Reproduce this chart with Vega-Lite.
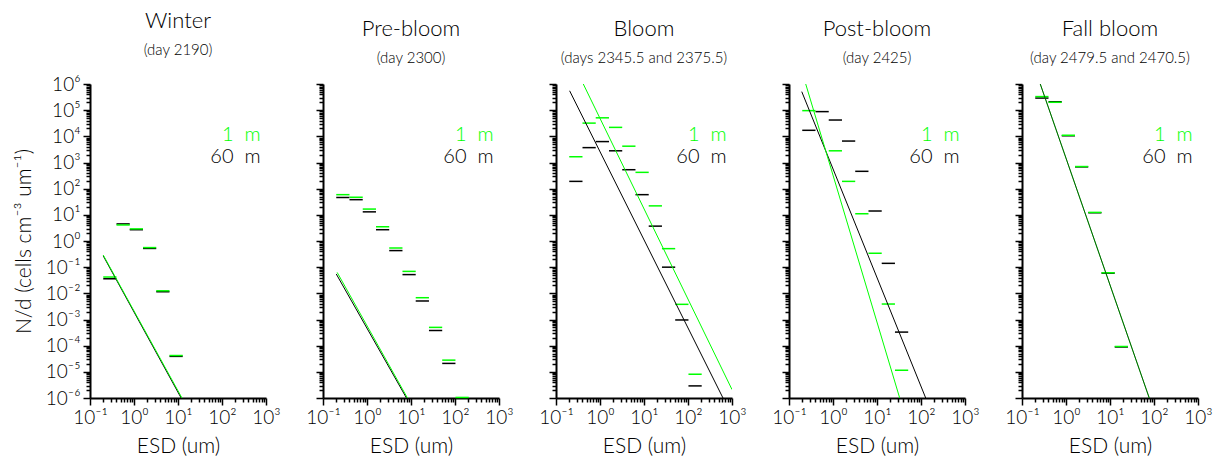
{
  "$schema": "https://vega.github.io/schema/vega-lite/v6.json",
  "padding": {"left": 13, "top": 10, "right": 5, "bottom": 5},
  "bounds": "flush",
  "spacing": 57,
  "config": {
    "view": {"stroke": null},
    "font": "Lato",
    "axis": {"grid": false, "domainColor": "#000", "domainWidth": 2, "tickColor": "#000", "tickWidth": 1.5, "labelColor": "#000", "titleColor": "#000", "labelFont": "Lato", "titleFont": "Lato", "labelFontWeight": 300, "titleFontWeight": 300, "labelFontSize": 19, "labelOverlap": false, "labelFlush": false},
    "title": {"font": "Lato", "fontWeight": 300, "fontSize": 22, "subtitleFont": "Lato", "subtitleFontWeight": 300, "subtitleFontSize": 15, "color": "#000", "subtitleColor": "#000", "subtitlePadding": 10, "offset": 16, "anchor": "middle"},
    "text": {"font": "Lato", "fontWeight": 300}
  },
  "datasets": {
    "bins": [
      {"p": "Winter", "depth": "60 m", "d": 0.2, "d2": 0.4, "v": 0.036},
      {"p": "Winter", "depth": "60 m", "d": 0.4, "d2": 0.8, "v": 4.5},
      {"p": "Winter", "depth": "60 m", "d": 0.8, "d2": 1.6, "v": 2.7},
      {"p": "Winter", "depth": "60 m", "d": 1.6, "d2": 3.2, "v": 0.52},
      {"p": "Winter", "depth": "60 m", "d": 3.2, "d2": 6.4, "v": 0.0115},
      {"p": "Winter", "depth": "60 m", "d": 6.4, "d2": 12.8, "v": 3.9e-5},
      {"p": "Winter", "depth": "1 m", "d": 0.2, "d2": 0.4, "v": 0.042},
      {"p": "Winter", "depth": "1 m", "d": 0.4, "d2": 0.8, "v": 4.1},
      {"p": "Winter", "depth": "1 m", "d": 0.8, "d2": 1.6, "v": 2.9},
      {"p": "Winter", "depth": "1 m", "d": 1.6, "d2": 3.2, "v": 0.56},
      {"p": "Winter", "depth": "1 m", "d": 3.2, "d2": 6.4, "v": 0.0125},
      {"p": "Winter", "depth": "1 m", "d": 6.4, "d2": 12.8, "v": 4.2e-5},
      {"p": "Pre-bloom", "depth": "60 m", "d": 0.2, "d2": 0.4, "v": 46},
      {"p": "Pre-bloom", "depth": "60 m", "d": 0.4, "d2": 0.8, "v": 38},
      {"p": "Pre-bloom", "depth": "60 m", "d": 0.8, "d2": 1.6, "v": 13},
      {"p": "Pre-bloom", "depth": "60 m", "d": 1.6, "d2": 3.2, "v": 2.7},
      {"p": "Pre-bloom", "depth": "60 m", "d": 3.2, "d2": 6.4, "v": 0.43},
      {"p": "Pre-bloom", "depth": "60 m", "d": 6.4, "d2": 12.8, "v": 0.052},
      {"p": "Pre-bloom", "depth": "60 m", "d": 12.8, "d2": 25.6, "v": 0.0051},
      {"p": "Pre-bloom", "depth": "60 m", "d": 25.6, "d2": 51.2, "v": 3.8e-4},
      {"p": "Pre-bloom", "depth": "60 m", "d": 51.2, "d2": 102.4, "v": 2.1e-5},
      {"p": "Pre-bloom", "depth": "1 m", "d": 0.2, "d2": 0.4, "v": 59},
      {"p": "Pre-bloom", "depth": "1 m", "d": 0.4, "d2": 0.8, "v": 47},
      {"p": "Pre-bloom", "depth": "1 m", "d": 0.8, "d2": 1.6, "v": 16.6},
      {"p": "Pre-bloom", "depth": "1 m", "d": 1.6, "d2": 3.2, "v": 3.5},
      {"p": "Pre-bloom", "depth": "1 m", "d": 3.2, "d2": 6.4, "v": 0.54},
      {"p": "Pre-bloom", "depth": "1 m", "d": 6.4, "d2": 12.8, "v": 0.069},
      {"p": "Pre-bloom", "depth": "1 m", "d": 12.8, "d2": 25.6, "v": 0.0068},
      {"p": "Pre-bloom", "depth": "1 m", "d": 25.6, "d2": 51.2, "v": 5.0e-4},
      {"p": "Pre-bloom", "depth": "1 m", "d": 51.2, "d2": 102.4, "v": 2.8e-5},
      {"p": "Pre-bloom", "depth": "1 m", "d": 102.4, "d2": 204.8, "v": 1.05e-6},
      {"p": "Bloom", "depth": "60 m", "d": 0.2, "d2": 0.4, "v": 190},
      {"p": "Bloom", "depth": "60 m", "d": 0.4, "d2": 0.8, "v": 3700},
      {"p": "Bloom", "depth": "60 m", "d": 0.8, "d2": 1.6, "v": 6300},
      {"p": "Bloom", "depth": "60 m", "d": 1.6, "d2": 3.2, "v": 2800},
      {"p": "Bloom", "depth": "60 m", "d": 3.2, "d2": 6.4, "v": 530},
      {"p": "Bloom", "depth": "60 m", "d": 6.4, "d2": 12.8, "v": 59},
      {"p": "Bloom", "depth": "60 m", "d": 12.8, "d2": 25.6, "v": 3.7},
      {"p": "Bloom", "depth": "60 m", "d": 25.6, "d2": 51.2, "v": 0.10},
      {"p": "Bloom", "depth": "60 m", "d": 51.2, "d2": 102.4, "v": 9.6e-4},
      {"p": "Bloom", "depth": "60 m", "d": 102.4, "d2": 204.8, "v": 2.9e-6},
      {"p": "Bloom", "depth": "1 m", "d": 0.2, "d2": 0.4, "v": 1660},
      {"p": "Bloom", "depth": "1 m", "d": 0.4, "d2": 0.8, "v": 32000},
      {"p": "Bloom", "depth": "1 m", "d": 0.8, "d2": 1.6, "v": 51000},
      {"p": "Bloom", "depth": "1 m", "d": 1.6, "d2": 3.2, "v": 22000},
      {"p": "Bloom", "depth": "1 m", "d": 3.2, "d2": 6.4, "v": 4200},
      {"p": "Bloom", "depth": "1 m", "d": 6.4, "d2": 12.8, "v": 420},
      {"p": "Bloom", "depth": "1 m", "d": 12.8, "d2": 25.6, "v": 22},
      {"p": "Bloom", "depth": "1 m", "d": 25.6, "d2": 51.2, "v": 0.51},
      {"p": "Bloom", "depth": "1 m", "d": 51.2, "d2": 102.4, "v": 0.0038},
      {"p": "Bloom", "depth": "1 m", "d": 102.4, "d2": 204.8, "v": 8.1e-6},
      {"p": "Post-bloom", "depth": "60 m", "d": 0.2, "d2": 0.4, "v": 17000},
      {"p": "Post-bloom", "depth": "60 m", "d": 0.4, "d2": 0.8, "v": 88000},
      {"p": "Post-bloom", "depth": "60 m", "d": 0.8, "d2": 1.6, "v": 42000},
      {"p": "Post-bloom", "depth": "60 m", "d": 1.6, "d2": 3.2, "v": 6600},
      {"p": "Post-bloom", "depth": "60 m", "d": 3.2, "d2": 6.4, "v": 460},
      {"p": "Post-bloom", "depth": "60 m", "d": 6.4, "d2": 12.8, "v": 14},
      {"p": "Post-bloom", "depth": "60 m", "d": 12.8, "d2": 25.6, "v": 0.14},
      {"p": "Post-bloom", "depth": "60 m", "d": 25.6, "d2": 51.2, "v": 3.3e-4},
      {"p": "Post-bloom", "depth": "1 m", "d": 0.2, "d2": 0.4, "v": 96000},
      {"p": "Post-bloom", "depth": "1 m", "d": 0.8, "d2": 1.6, "v": 2800},
      {"p": "Post-bloom", "depth": "1 m", "d": 1.6, "d2": 3.2, "v": 190},
      {"p": "Post-bloom", "depth": "1 m", "d": 3.2, "d2": 6.4, "v": 11},
      {"p": "Post-bloom", "depth": "1 m", "d": 6.4, "d2": 12.8, "v": 0.34},
      {"p": "Post-bloom", "depth": "1 m", "d": 12.8, "d2": 25.6, "v": 0.0039},
      {"p": "Post-bloom", "depth": "1 m", "d": 25.6, "d2": 51.2, "v": 1.15e-5},
      {"p": "Fall bloom", "depth": "60 m", "d": 0.2, "d2": 0.4, "v": 290000},
      {"p": "Fall bloom", "depth": "60 m", "d": 0.4, "d2": 0.8, "v": 210000},
      {"p": "Fall bloom", "depth": "60 m", "d": 0.8, "d2": 1.6, "v": 10500},
      {"p": "Fall bloom", "depth": "60 m", "d": 1.6, "d2": 3.2, "v": 680},
      {"p": "Fall bloom", "depth": "60 m", "d": 3.2, "d2": 6.4, "v": 12},
      {"p": "Fall bloom", "depth": "60 m", "d": 6.4, "d2": 12.8, "v": 0.059},
      {"p": "Fall bloom", "depth": "60 m", "d": 12.8, "d2": 25.6, "v": 8.9e-5},
      {"p": "Fall bloom", "depth": "1 m", "d": 0.2, "d2": 0.4, "v": 330000},
      {"p": "Fall bloom", "depth": "1 m", "d": 0.4, "d2": 0.8, "v": 200000},
      {"p": "Fall bloom", "depth": "1 m", "d": 0.8, "d2": 1.6, "v": 11000},
      {"p": "Fall bloom", "depth": "1 m", "d": 1.6, "d2": 3.2, "v": 700},
      {"p": "Fall bloom", "depth": "1 m", "d": 3.2, "d2": 6.4, "v": 12.4},
      {"p": "Fall bloom", "depth": "1 m", "d": 6.4, "d2": 12.8, "v": 0.061},
      {"p": "Fall bloom", "depth": "1 m", "d": 12.8, "d2": 25.6, "v": 9.3e-5}
    ],
    "fits": [
      {"p": "Winter", "depth": "60 m", "d": 0.2, "v": 0.27},
      {"p": "Winter", "depth": "60 m", "d": 11.8, "v": 1e-6},
      {"p": "Winter", "depth": "1 m", "d": 0.2, "v": 0.29},
      {"p": "Winter", "depth": "1 m", "d": 12.3, "v": 1e-6},
      {"p": "Pre-bloom", "depth": "60 m", "d": 0.2, "v": 0.055},
      {"p": "Pre-bloom", "depth": "60 m", "d": 7.9, "v": 1e-6},
      {"p": "Pre-bloom", "depth": "1 m", "d": 0.21, "v": 0.063},
      {"p": "Pre-bloom", "depth": "1 m", "d": 8.3, "v": 1e-6},
      {"p": "Bloom", "depth": "60 m", "d": 0.204, "v": 550000},
      {"p": "Bloom", "depth": "60 m", "d": 624, "v": 1e-6},
      {"p": "Bloom", "depth": "1 m", "d": 0.417, "v": 1000000},
      {"p": "Bloom", "depth": "1 m", "d": 1000, "v": 2.1e-6},
      {"p": "Post-bloom", "depth": "60 m", "d": 0.195, "v": 510000},
      {"p": "Post-bloom", "depth": "60 m", "d": 128, "v": 1e-6},
      {"p": "Post-bloom", "depth": "1 m", "d": 0.24, "v": 1000000},
      {"p": "Post-bloom", "depth": "1 m", "d": 32.8, "v": 1e-6},
      {"p": "Fall bloom", "depth": "60 m", "d": 0.26, "v": 1000000},
      {"p": "Fall bloom", "depth": "60 m", "d": 78, "v": 1e-6},
      {"p": "Fall bloom", "depth": "1 m", "d": 0.26, "v": 1000000},
      {"p": "Fall bloom", "depth": "1 m", "d": 78, "v": 1e-6}
    ],
    "one": [{"k": 1}]
  },
  "hconcat": [
    {
      "width": 176, "height": 314,
      "title": {"text": "Winter", "subtitle": "(day 2190)"},
      "layer": [
        {"data": {"name": "bins"}, "transform": [{"filter": "datum.p === 'Winter'"}], "mark": {"type": "rule", "strokeWidth": 1.5},
          "encoding": {
            "x": {"field": "d", "type": "quantitative", "scale": {"type": "log", "domain": [0.1, 1000]},
              "axis": {"title": "ESD (um)", "titleFontSize": 21, "titlePadding": 8, "labelPadding": 3,
                "values": [0.1,0.2,0.3,0.4,0.5,0.6,0.7,0.8,0.9,1,2,3,4,5,6,7,8,9,10,20,30,40,50,60,70,80,90,100,200,300,400,500,600,700,800,900,1000],
                "labelExpr": "abs(log(datum.value)/LN10 - round(log(datum.value)/LN10)) < 0.01 ? '10' + (round(log(datum.value)/LN10) < 0 ? '⁻' : '') + ['⁰','¹','²','³','⁴','⁵','⁶'][abs(round(log(datum.value)/LN10))] : ''",
                "tickSize": {"condition": {"test": "abs(log(datum.value)/LN10 - round(log(datum.value)/LN10)) < 0.01", "value": 7}, "value": 4}}},
            "x2": {"field": "d2"},
            "y": {"field": "v", "type": "quantitative", "scale": {"type": "log", "domain": [1e-6, 1e6]},
              "axis": {"title": "N/d (cells cm⁻³ um⁻¹)", "titleFontSize": 21, "titlePadding": 11, "labelPadding": 3,
                "values": [1e-6,2e-6,3e-6,4e-6,5e-6,6e-6,7e-6,8e-6,9e-6,1e-5,2e-5,3e-5,4e-5,5e-5,6e-5,7e-5,8e-5,9e-5,1e-4,2e-4,3e-4,4e-4,5e-4,6e-4,7e-4,8e-4,9e-4,1e-3,2e-3,3e-3,4e-3,5e-3,6e-3,7e-3,8e-3,9e-3,1e-2,2e-2,3e-2,4e-2,5e-2,6e-2,7e-2,8e-2,9e-2,0.1,0.2,0.3,0.4,0.5,0.6,0.7,0.8,0.9,1,2,3,4,5,6,7,8,9,10,20,30,40,50,60,70,80,90,100,200,300,400,500,600,700,800,900,1000,2000,3000,4000,5000,6000,7000,8000,9000,1e4,2e4,3e4,4e4,5e4,6e4,7e4,8e4,9e4,1e5,2e5,3e5,4e5,5e5,6e5,7e5,8e5,9e5,1e6],
                "labelExpr": "abs(log(datum.value)/LN10 - round(log(datum.value)/LN10)) < 0.01 ? '10' + (round(log(datum.value)/LN10) < 0 ? '⁻' : '') + ['⁰','¹','²','³','⁴','⁵','⁶'][abs(round(log(datum.value)/LN10))] : ''",
                "tickSize": {"condition": {"test": "abs(log(datum.value)/LN10 - round(log(datum.value)/LN10)) < 0.01", "value": 7}, "value": 4}}},
            "color": {"field": "depth", "type": "nominal", "scale": {"domain": ["1 m", "60 m"], "range": ["#00ff00", "#000000"]}, "legend": null}}},
        {"data": {"name": "fits"}, "transform": [{"filter": "datum.p === 'Winter'"}], "mark": {"type": "line", "strokeWidth": 1, "clip": true},
          "encoding": {"x": {"field": "d", "type": "quantitative"}, "y": {"field": "v", "type": "quantitative"}, "color": {"field": "depth", "type": "nominal"}, "order": {"field": "d"}}},
        {"data": {"name": "one"}, "mark": {"type": "text", "text": "1\u00a0\u00a0m", "align": "right", "baseline": "middle", "fontSize": 20, "fill": "#00ff00"},
          "encoding": {"x": {"datum": 750, "type": "quantitative"}, "y": {"datum": 11000, "type": "quantitative"}}},
        {"data": {"name": "one"}, "mark": {"type": "text", "text": "60\u00a0\u00a0m", "align": "right", "baseline": "middle", "fontSize": 20, "fill": "#000000"},
          "encoding": {"x": {"datum": 750, "type": "quantitative"}, "y": {"datum": 1600, "type": "quantitative"}}}
      ]
    },
    {
      "width": 176, "height": 314,
      "title": {"text": "Pre-bloom", "subtitle": "(day 2300)"},
      "layer": [
        {"data": {"name": "bins"}, "transform": [{"filter": "datum.p === 'Pre-bloom'"}], "mark": {"type": "rule", "strokeWidth": 1.5},
          "encoding": {
            "x": {"field": "d", "type": "quantitative", "scale": {"type": "log", "domain": [0.1, 1000]},
              "axis": {"title": "ESD (um)", "titleFontSize": 21, "titlePadding": 8, "labelPadding": 3,
                "values": [0.1,0.2,0.3,0.4,0.5,0.6,0.7,0.8,0.9,1,2,3,4,5,6,7,8,9,10,20,30,40,50,60,70,80,90,100,200,300,400,500,600,700,800,900,1000],
                "labelExpr": "abs(log(datum.value)/LN10 - round(log(datum.value)/LN10)) < 0.01 ? '10' + (round(log(datum.value)/LN10) < 0 ? '⁻' : '') + ['⁰','¹','²','³','⁴','⁵','⁶'][abs(round(log(datum.value)/LN10))] : ''",
                "tickSize": {"condition": {"test": "abs(log(datum.value)/LN10 - round(log(datum.value)/LN10)) < 0.01", "value": 7}, "value": 4}}},
            "x2": {"field": "d2"},
            "y": {"field": "v", "type": "quantitative", "scale": {"type": "log", "domain": [1e-6, 1e6]},
              "axis": {"title": null, "labels": false,
                "values": [1e-6,2e-6,3e-6,4e-6,5e-6,6e-6,7e-6,8e-6,9e-6,1e-5,2e-5,3e-5,4e-5,5e-5,6e-5,7e-5,8e-5,9e-5,1e-4,2e-4,3e-4,4e-4,5e-4,6e-4,7e-4,8e-4,9e-4,1e-3,2e-3,3e-3,4e-3,5e-3,6e-3,7e-3,8e-3,9e-3,1e-2,2e-2,3e-2,4e-2,5e-2,6e-2,7e-2,8e-2,9e-2,0.1,0.2,0.3,0.4,0.5,0.6,0.7,0.8,0.9,1,2,3,4,5,6,7,8,9,10,20,30,40,50,60,70,80,90,100,200,300,400,500,600,700,800,900,1000,2000,3000,4000,5000,6000,7000,8000,9000,1e4,2e4,3e4,4e4,5e4,6e4,7e4,8e4,9e4,1e5,2e5,3e5,4e5,5e5,6e5,7e5,8e5,9e5,1e6],
                "tickSize": {"condition": {"test": "abs(log(datum.value)/LN10 - round(log(datum.value)/LN10)) < 0.01", "value": 7}, "value": 4}}},
            "color": {"field": "depth", "type": "nominal", "scale": {"domain": ["1 m", "60 m"], "range": ["#00ff00", "#000000"]}, "legend": null}}},
        {"data": {"name": "fits"}, "transform": [{"filter": "datum.p === 'Pre-bloom'"}], "mark": {"type": "line", "strokeWidth": 1, "clip": true},
          "encoding": {"x": {"field": "d", "type": "quantitative"}, "y": {"field": "v", "type": "quantitative"}, "color": {"field": "depth", "type": "nominal"}, "order": {"field": "d"}}},
        {"data": {"name": "one"}, "mark": {"type": "text", "text": "1\u00a0\u00a0m", "align": "right", "baseline": "middle", "fontSize": 20, "fill": "#00ff00"},
          "encoding": {"x": {"datum": 750, "type": "quantitative"}, "y": {"datum": 11000, "type": "quantitative"}}},
        {"data": {"name": "one"}, "mark": {"type": "text", "text": "60\u00a0\u00a0m", "align": "right", "baseline": "middle", "fontSize": 20, "fill": "#000000"},
          "encoding": {"x": {"datum": 750, "type": "quantitative"}, "y": {"datum": 1600, "type": "quantitative"}}}
      ]
    },
    {
      "width": 176, "height": 314,
      "title": {"text": "Bloom", "subtitle": "(days 2345.5 and 2375.5)"},
      "layer": [
        {"data": {"name": "bins"}, "transform": [{"filter": "datum.p === 'Bloom'"}], "mark": {"type": "rule", "strokeWidth": 1.5},
          "encoding": {
            "x": {"field": "d", "type": "quantitative", "scale": {"type": "log", "domain": [0.1, 1000]},
              "axis": {"title": "ESD (um)", "titleFontSize": 21, "titlePadding": 8, "labelPadding": 3,
                "values": [0.1,0.2,0.3,0.4,0.5,0.6,0.7,0.8,0.9,1,2,3,4,5,6,7,8,9,10,20,30,40,50,60,70,80,90,100,200,300,400,500,600,700,800,900,1000],
                "labelExpr": "abs(log(datum.value)/LN10 - round(log(datum.value)/LN10)) < 0.01 ? '10' + (round(log(datum.value)/LN10) < 0 ? '⁻' : '') + ['⁰','¹','²','³','⁴','⁵','⁶'][abs(round(log(datum.value)/LN10))] : ''",
                "tickSize": {"condition": {"test": "abs(log(datum.value)/LN10 - round(log(datum.value)/LN10)) < 0.01", "value": 7}, "value": 4}}},
            "x2": {"field": "d2"},
            "y": {"field": "v", "type": "quantitative", "scale": {"type": "log", "domain": [1e-6, 1e6]},
              "axis": {"title": null, "labels": false,
                "values": [1e-6,2e-6,3e-6,4e-6,5e-6,6e-6,7e-6,8e-6,9e-6,1e-5,2e-5,3e-5,4e-5,5e-5,6e-5,7e-5,8e-5,9e-5,1e-4,2e-4,3e-4,4e-4,5e-4,6e-4,7e-4,8e-4,9e-4,1e-3,2e-3,3e-3,4e-3,5e-3,6e-3,7e-3,8e-3,9e-3,1e-2,2e-2,3e-2,4e-2,5e-2,6e-2,7e-2,8e-2,9e-2,0.1,0.2,0.3,0.4,0.5,0.6,0.7,0.8,0.9,1,2,3,4,5,6,7,8,9,10,20,30,40,50,60,70,80,90,100,200,300,400,500,600,700,800,900,1000,2000,3000,4000,5000,6000,7000,8000,9000,1e4,2e4,3e4,4e4,5e4,6e4,7e4,8e4,9e4,1e5,2e5,3e5,4e5,5e5,6e5,7e5,8e5,9e5,1e6],
                "tickSize": {"condition": {"test": "abs(log(datum.value)/LN10 - round(log(datum.value)/LN10)) < 0.01", "value": 7}, "value": 4}}},
            "color": {"field": "depth", "type": "nominal", "scale": {"domain": ["1 m", "60 m"], "range": ["#00ff00", "#000000"]}, "legend": null}}},
        {"data": {"name": "fits"}, "transform": [{"filter": "datum.p === 'Bloom'"}], "mark": {"type": "line", "strokeWidth": 1, "clip": true},
          "encoding": {"x": {"field": "d", "type": "quantitative"}, "y": {"field": "v", "type": "quantitative"}, "color": {"field": "depth", "type": "nominal"}, "order": {"field": "d"}}},
        {"data": {"name": "one"}, "mark": {"type": "text", "text": "1\u00a0\u00a0m", "align": "right", "baseline": "middle", "fontSize": 20, "fill": "#00ff00"},
          "encoding": {"x": {"datum": 750, "type": "quantitative"}, "y": {"datum": 11000, "type": "quantitative"}}},
        {"data": {"name": "one"}, "mark": {"type": "text", "text": "60\u00a0\u00a0m", "align": "right", "baseline": "middle", "fontSize": 20, "fill": "#000000"},
          "encoding": {"x": {"datum": 750, "type": "quantitative"}, "y": {"datum": 1600, "type": "quantitative"}}}
      ]
    },
    {
      "width": 176, "height": 314,
      "title": {"text": "Post-bloom", "subtitle": "(day 2425)"},
      "layer": [
        {"data": {"name": "bins"}, "transform": [{"filter": "datum.p === 'Post-bloom'"}], "mark": {"type": "rule", "strokeWidth": 1.5},
          "encoding": {
            "x": {"field": "d", "type": "quantitative", "scale": {"type": "log", "domain": [0.1, 1000]},
              "axis": {"title": "ESD (um)", "titleFontSize": 21, "titlePadding": 8, "labelPadding": 3,
                "values": [0.1,0.2,0.3,0.4,0.5,0.6,0.7,0.8,0.9,1,2,3,4,5,6,7,8,9,10,20,30,40,50,60,70,80,90,100,200,300,400,500,600,700,800,900,1000],
                "labelExpr": "abs(log(datum.value)/LN10 - round(log(datum.value)/LN10)) < 0.01 ? '10' + (round(log(datum.value)/LN10) < 0 ? '⁻' : '') + ['⁰','¹','²','³','⁴','⁵','⁶'][abs(round(log(datum.value)/LN10))] : ''",
                "tickSize": {"condition": {"test": "abs(log(datum.value)/LN10 - round(log(datum.value)/LN10)) < 0.01", "value": 7}, "value": 4}}},
            "x2": {"field": "d2"},
            "y": {"field": "v", "type": "quantitative", "scale": {"type": "log", "domain": [1e-6, 1e6]},
              "axis": {"title": null, "labels": false,
                "values": [1e-6,2e-6,3e-6,4e-6,5e-6,6e-6,7e-6,8e-6,9e-6,1e-5,2e-5,3e-5,4e-5,5e-5,6e-5,7e-5,8e-5,9e-5,1e-4,2e-4,3e-4,4e-4,5e-4,6e-4,7e-4,8e-4,9e-4,1e-3,2e-3,3e-3,4e-3,5e-3,6e-3,7e-3,8e-3,9e-3,1e-2,2e-2,3e-2,4e-2,5e-2,6e-2,7e-2,8e-2,9e-2,0.1,0.2,0.3,0.4,0.5,0.6,0.7,0.8,0.9,1,2,3,4,5,6,7,8,9,10,20,30,40,50,60,70,80,90,100,200,300,400,500,600,700,800,900,1000,2000,3000,4000,5000,6000,7000,8000,9000,1e4,2e4,3e4,4e4,5e4,6e4,7e4,8e4,9e4,1e5,2e5,3e5,4e5,5e5,6e5,7e5,8e5,9e5,1e6],
                "tickSize": {"condition": {"test": "abs(log(datum.value)/LN10 - round(log(datum.value)/LN10)) < 0.01", "value": 7}, "value": 4}}},
            "color": {"field": "depth", "type": "nominal", "scale": {"domain": ["1 m", "60 m"], "range": ["#00ff00", "#000000"]}, "legend": null}}},
        {"data": {"name": "fits"}, "transform": [{"filter": "datum.p === 'Post-bloom'"}], "mark": {"type": "line", "strokeWidth": 1, "clip": true},
          "encoding": {"x": {"field": "d", "type": "quantitative"}, "y": {"field": "v", "type": "quantitative"}, "color": {"field": "depth", "type": "nominal"}, "order": {"field": "d"}}},
        {"data": {"name": "one"}, "mark": {"type": "text", "text": "1\u00a0\u00a0m", "align": "right", "baseline": "middle", "fontSize": 20, "fill": "#00ff00"},
          "encoding": {"x": {"datum": 750, "type": "quantitative"}, "y": {"datum": 11000, "type": "quantitative"}}},
        {"data": {"name": "one"}, "mark": {"type": "text", "text": "60\u00a0\u00a0m", "align": "right", "baseline": "middle", "fontSize": 20, "fill": "#000000"},
          "encoding": {"x": {"datum": 750, "type": "quantitative"}, "y": {"datum": 1600, "type": "quantitative"}}}
      ]
    },
    {
      "width": 176, "height": 314,
      "title": {"text": "Fall bloom", "subtitle": "(day 2479.5 and 2470.5)"},
      "layer": [
        {"data": {"name": "bins"}, "transform": [{"filter": "datum.p === 'Fall bloom'"}], "mark": {"type": "rule", "strokeWidth": 1.5},
          "encoding": {
            "x": {"field": "d", "type": "quantitative", "scale": {"type": "log", "domain": [0.1, 1000]},
              "axis": {"title": "ESD (um)", "titleFontSize": 21, "titlePadding": 8, "labelPadding": 3,
                "values": [0.1,0.2,0.3,0.4,0.5,0.6,0.7,0.8,0.9,1,2,3,4,5,6,7,8,9,10,20,30,40,50,60,70,80,90,100,200,300,400,500,600,700,800,900,1000],
                "labelExpr": "abs(log(datum.value)/LN10 - round(log(datum.value)/LN10)) < 0.01 ? '10' + (round(log(datum.value)/LN10) < 0 ? '⁻' : '') + ['⁰','¹','²','³','⁴','⁵','⁶'][abs(round(log(datum.value)/LN10))] : ''",
                "tickSize": {"condition": {"test": "abs(log(datum.value)/LN10 - round(log(datum.value)/LN10)) < 0.01", "value": 7}, "value": 4}}},
            "x2": {"field": "d2"},
            "y": {"field": "v", "type": "quantitative", "scale": {"type": "log", "domain": [1e-6, 1e6]},
              "axis": {"title": null, "labels": false,
                "values": [1e-6,2e-6,3e-6,4e-6,5e-6,6e-6,7e-6,8e-6,9e-6,1e-5,2e-5,3e-5,4e-5,5e-5,6e-5,7e-5,8e-5,9e-5,1e-4,2e-4,3e-4,4e-4,5e-4,6e-4,7e-4,8e-4,9e-4,1e-3,2e-3,3e-3,4e-3,5e-3,6e-3,7e-3,8e-3,9e-3,1e-2,2e-2,3e-2,4e-2,5e-2,6e-2,7e-2,8e-2,9e-2,0.1,0.2,0.3,0.4,0.5,0.6,0.7,0.8,0.9,1,2,3,4,5,6,7,8,9,10,20,30,40,50,60,70,80,90,100,200,300,400,500,600,700,800,900,1000,2000,3000,4000,5000,6000,7000,8000,9000,1e4,2e4,3e4,4e4,5e4,6e4,7e4,8e4,9e4,1e5,2e5,3e5,4e5,5e5,6e5,7e5,8e5,9e5,1e6],
                "tickSize": {"condition": {"test": "abs(log(datum.value)/LN10 - round(log(datum.value)/LN10)) < 0.01", "value": 7}, "value": 4}}},
            "color": {"field": "depth", "type": "nominal", "scale": {"domain": ["1 m", "60 m"], "range": ["#00ff00", "#000000"]}, "legend": null}}},
        {"data": {"name": "fits"}, "transform": [{"filter": "datum.p === 'Fall bloom' && datum.depth === '1 m'"}], "mark": {"type": "line", "strokeWidth": 1, "clip": true},
          "encoding": {"x": {"field": "d", "type": "quantitative"}, "y": {"field": "v", "type": "quantitative"}, "color": {"field": "depth", "type": "nominal"}, "order": {"field": "d"}}},
        {"data": {"name": "fits"}, "transform": [{"filter": "datum.p === 'Fall bloom' && datum.depth === '60 m'"}], "mark": {"type": "line", "strokeWidth": 1, "clip": true, "strokeOpacity": 0.65},
          "encoding": {"x": {"field": "d", "type": "quantitative"}, "y": {"field": "v", "type": "quantitative"}, "color": {"field": "depth", "type": "nominal"}, "order": {"field": "d"}}},
        {"data": {"name": "one"}, "mark": {"type": "text", "text": "1\u00a0\u00a0m", "align": "right", "baseline": "middle", "fontSize": 20, "fill": "#00ff00"},
          "encoding": {"x": {"datum": 750, "type": "quantitative"}, "y": {"datum": 11000, "type": "quantitative"}}},
        {"data": {"name": "one"}, "mark": {"type": "text", "text": "60\u00a0\u00a0m", "align": "right", "baseline": "middle", "fontSize": 20, "fill": "#000000"},
          "encoding": {"x": {"datum": 750, "type": "quantitative"}, "y": {"datum": 1600, "type": "quantitative"}}}
      ]
    }
  ]
}
